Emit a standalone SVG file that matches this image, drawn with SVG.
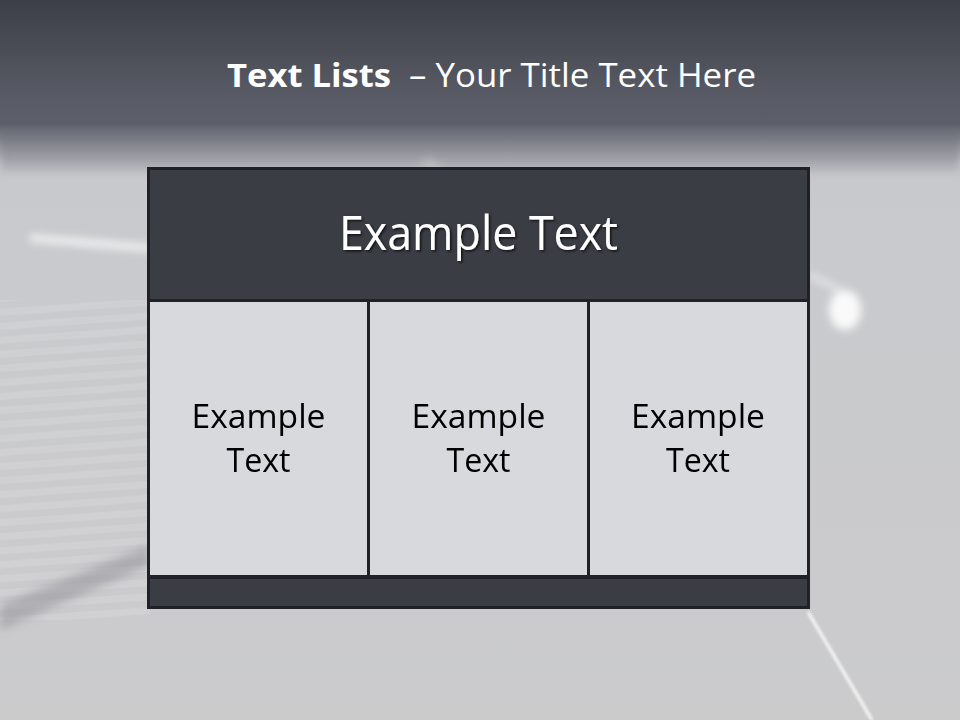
<svg xmlns="http://www.w3.org/2000/svg" width="960" height="720" viewBox="0 0 960 720">
<defs>
<linearGradient id="bg" x1="0" y1="0" x2="0" y2="1">
<stop offset="0" stop-color="#c4c5c9"/>
<stop offset="0.35" stop-color="#c9cacd"/>
<stop offset="1" stop-color="#cbcbcc"/>
</linearGradient>
<linearGradient id="top" x1="0" y1="0" x2="0" y2="1">
<stop offset="0" stop-color="#3d3f47"/>
<stop offset="0.8" stop-color="#595c66"/>
<stop offset="1" stop-color="#5c5f69"/>
</linearGradient>
<linearGradient id="fade" x1="0" y1="0" x2="0" y2="1">
<stop offset="0" stop-color="#5c5f69" stop-opacity="1"/>
<stop offset="1" stop-color="#5c5f69" stop-opacity="0"/>
</linearGradient>
<filter id="blur" x="-20%" y="-20%" width="140%" height="140%"><feGaussianBlur stdDeviation="4"/></filter>
<filter id="blur2" x="-20%" y="-20%" width="140%" height="140%"><feGaussianBlur stdDeviation="1.5"/></filter>
<filter id="shadow" x="-10%" y="-20%" width="120%" height="140%"><feDropShadow dx="1.5" dy="1.5" stdDeviation="1.2" flood-color="#000" flood-opacity="0.7"/></filter>
<pattern id="stripes" width="20" height="14" patternUnits="userSpaceOnUse" patternTransform="rotate(-4)">
<rect width="20" height="7" fill="#ffffff" opacity="0.12"/>
</pattern>
</defs>
<style>
.title{font-family:"Open Sans","Liberation Sans",sans-serif;fill:#ffffff;font-size:33px}
.dark{fill:#3b3d45;stroke:#1f2126;stroke-width:3}
.light{fill:#d8d9dc;stroke:#1f2126;stroke-width:3}
.htext{font-family:"Open Sans","Liberation Sans",sans-serif;fill:#ffffff;font-size:47px;text-anchor:middle}
.ctext{font-family:"Open Sans","Liberation Sans",sans-serif;fill:#000000;font-size:32px;text-anchor:middle}
</style>
<!-- background -->
<rect width="960" height="720" fill="url(#bg)"/>
<rect x="0" y="300" width="150" height="320" fill="url(#stripes)"/>
<g filter="url(#blur)">
<path d="M0 605 L150 545 L150 565 L0 630 Z" fill="#8f9096" opacity="0.5"/>
<path d="M30 238 L150 248" stroke="#ffffff" stroke-width="7" opacity="0.8"/>
<ellipse cx="845" cy="310" rx="16" ry="20" fill="#ffffff" opacity="0.9"/>
<path d="M810 275 L840 290" stroke="#ffffff" stroke-width="5" opacity="0.6"/>
<path d="M420 165 L430 155 L440 170 Z" fill="#ffffff" opacity="0.7"/>
<rect x="0" y="130" width="960" height="40" fill="#8c8e96" opacity="0.5"/>
</g>
<path d="M808 612 L872 720" stroke="#ffffff" stroke-width="3" opacity="0.9" filter="url(#blur2)"/>
<rect x="0" y="0" width="960" height="125" fill="url(#top)"/>
<rect x="0" y="124" width="960" height="40" fill="url(#fade)"/>
<!-- title -->
<g id="title">
<text x="227" y="87" class="title"><tspan font-weight="bold" textLength="164" lengthAdjust="spacingAndGlyphs">Text Lists</tspan><tspan x="409" textLength="347" lengthAdjust="spacingAndGlyphs">– Your Title Text Here</tspan></text>
</g>
<!-- table -->
<g id="header">
<rect class="dark" x="148.5" y="168.5" width="660" height="132"/>
<text class="htext" x="478.5" y="250" filter="url(#shadow)" textLength="279" lengthAdjust="spacingAndGlyphs">Example Text</text>
</g>
<g id="cell1">
<rect class="light" x="148.5" y="300.5" width="220" height="276"/>
<text class="ctext" x="258.5" y="428" textLength="134" lengthAdjust="spacingAndGlyphs">Example</text>
<text class="ctext" x="258.5" y="472" textLength="64" lengthAdjust="spacingAndGlyphs">Text</text>
</g>
<g id="cell2">
<rect class="light" x="368.5" y="300.5" width="220" height="276"/>
<text class="ctext" x="478.5" y="428" textLength="134" lengthAdjust="spacingAndGlyphs">Example</text>
<text class="ctext" x="478.5" y="472" textLength="64" lengthAdjust="spacingAndGlyphs">Text</text>
</g>
<g id="cell3">
<rect class="light" x="588.5" y="300.5" width="220" height="276"/>
<text class="ctext" x="698" y="428" textLength="134" lengthAdjust="spacingAndGlyphs">Example</text>
<text class="ctext" x="698" y="472" textLength="64" lengthAdjust="spacingAndGlyphs">Text</text>
</g>
<g id="footer">
<rect class="dark" x="148.5" y="577.5" width="660" height="30"/>
</g>
<g id="connectors"></g>
</svg>
